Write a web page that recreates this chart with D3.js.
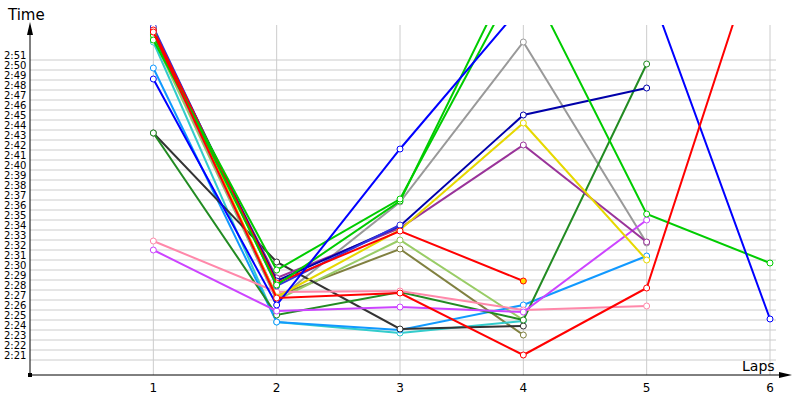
<!DOCTYPE html>
<html>
<head>
<meta charset="utf-8">
<script src="https://cdn.jsdelivr.net/npm/d3@7"></script>
<style>
  body { margin: 0; background: #fff; }
  svg { font-family: Tahoma, "DejaVu Sans", sans-serif; }
</style>
</head>
<body>
<svg id="chart" width="800" height="400"></svg>
<script>
// DATA: lap times in seconds, one array per car, null = no lap
var laps = [1, 2, 3, 4, 5, 6];
var tickSeconds = d3.range(141, 172);
var blue = [169.1, 146.5, 162.1, 176.6, 178.9, 145.1];
var lime1 = [173.0, 150.0, 157.1, 180.0, 155.6, 150.7];
var lime2 = [173.5, 148.5, 156.9, 182.0];
var gray = [173.7, 147.0, 156.8, 172.8, 152.7];
var navy = [174.0, 148.9, 154.4, 165.5, 168.2];
var yellow = [174.2, 147.3, 154.0, 164.7, 151.0];
var purple = [173.6, 149.2, 154.2, 162.5, 152.8];
var darkgreen = [163.7, 145.5, 147.8, 145.0, 170.6];
var black = [163.7, 150.8, 144.1, 144.4];
var lightgreen = [173.2, 147.0, 153.0, 145.0];
var olive = [173.4, 147.4, 152.1, 143.5];
var pink = [152.9, 147.8, 147.9, 146.0, 146.4];
var violet = [152.0, 145.9, 146.3, 145.8, 155.0];
var dodger = [170.2, 144.8, 144.0, 146.5, 151.4];
var cyan = [172.8, 144.8, 143.7, 144.9];
var blue2 = [174.3, 148.4, 154.5];
var red2 = [174.0, 148.7, 153.9, 148.9];
var red1 = [173.8, 147.2, 147.7, 141.5, 148.2, 185.9];

var series = [
  { c: '#808040', v: olive }, { c: '#99cc66', v: lightgreen }, { c: '#999999', v: gray },
  { c: '#33cccc', v: cyan }, { c: '#1199ff', v: dodger }, { c: '#333333', v: black },
  { c: '#228b22', v: darkgreen }, { c: '#ff88aa', v: pink }, { c: '#cc44ff', v: violet },
  { c: '#993399', v: purple }, { c: '#e6d800', v: yellow }, { c: '#0000aa', v: navy },
  { c: '#3333dd', v: blue2 }, { c: '#ff0000', v: red2, last: '#ffdd00' }, { c: '#00cc00', v: lime2 },
  { c: '#00cc00', v: lime1 }, { c: '#0000ff', v: blue }, { c: '#ff0000', v: red1 }
];

var svg = d3.select('#chart');
var x = d3.scaleLinear().domain([0, 6]).range([30, 770]);
var y = d3.scaleLinear().domain([139.5, 174.5]).range([375, 25]);
var fmt = function(s) { return Math.floor(s / 60) + ':' + d3.format('02d')(s % 60); };

svg.append('defs').append('clipPath').attr('id', 'clip')
  .append('rect').attr('x', 0).attr('y', 25).attr('width', 800).attr('height', 360);

// grid
svg.append('g').selectAll('line').data(tickSeconds).join('line')
  .attr('x1', 30).attr('x2', 776).attr('y1', function(d) { return y(d); }).attr('y2', function(d) { return y(d); })
  .attr('stroke', '#cccccc');
svg.append('g').selectAll('line').data(laps).join('line')
  .attr('x1', function(d) { return x(d); }).attr('x2', function(d) { return x(d); })
  .attr('y1', 25).attr('y2', 375).attr('stroke', '#cccccc');

// y labels
svg.append('g').selectAll('text').data(tickSeconds).join('text')
  .attr('x', 4).attr('y', function(d) { return y(d) - 1; })
  .attr('font-size', 10).attr('fill', '#000').text(fmt);

// x labels
svg.append('g').selectAll('text').data(laps).join('text')
  .attr('x', function(d) { return x(d); }).attr('y', 392).attr('text-anchor', 'middle')
  .attr('font-size', 12).text(function(d) { return d; });

// axes
svg.append('line').attr('x1', 30).attr('x2', 30).attr('y1', 28).attr('y2', 375).attr('stroke', '#000');
svg.append('line').attr('x1', 30).attr('x2', 788).attr('y1', 375).attr('y2', 375).attr('stroke', '#000');
svg.append('path').attr('d', 'M30,22 L27,35 L33,35 Z').attr('fill', '#000');
svg.append('path').attr('d', 'M792,375 L779,372 L779,378 Z').attr('fill', '#000');
svg.append('rect').attr('x', 28).attr('y', 373).attr('width', 4).attr('height', 4).attr('fill', '#000');
svg.append('text').attr('x', 8).attr('y', 20).attr('font-size', 15).text('Time');
svg.append('text').attr('x', 742).attr('y', 371).attr('font-size', 14).text('Laps');

// lines
var line = d3.line()
  .defined(function(d) { return d != null; })
  .x(function(d, i) { return x(laps[i]); })
  .y(function(d) { return y(d); });
var plot = svg.append('g').attr('clip-path', 'url(#clip)');
series.forEach(function(s) {
  plot.append('path').attr('d', line(s.v)).attr('fill', 'none')
    .attr('stroke', s.c).attr('stroke-width', 2);
  plot.selectAll(null).data(s.v).join('circle')
    .attr('cx', function(d, i) { return x(laps[i]); })
    .attr('cy', function(d) { return y(d); })
    .attr('r', 3)
    .attr('fill', function(d, i) { return (s.last && i === s.v.length - 1) ? s.last : '#fff'; })
    .attr('stroke', s.c).attr('stroke-width', 1);
});
</script>
</body>
</html>
